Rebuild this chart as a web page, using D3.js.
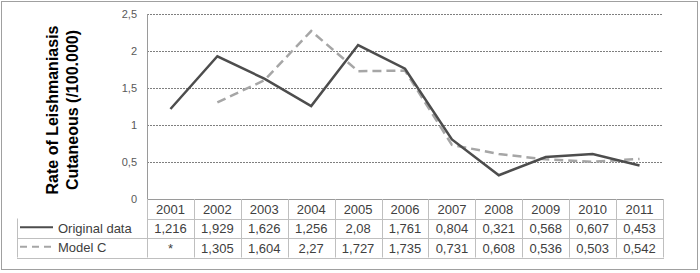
<!DOCTYPE html>
<html>
<head>
<meta charset="utf-8">
<script src="https://cdn.jsdelivr.net/npm/d3@7"></script>
<style>
  body { margin: 0; background: #fff; }
  svg { display: block; font-family: "Liberation Sans", Arial, sans-serif; }
</style>
</head>
<body>
<svg id="chart" width="700" height="273"></svg>
<script>
// Chart data
const years = ["2001", "2002", "2003", "2004", "2005", "2006", "2007", "2008", "2009", "2010", "2011"];
const original = [1.216, 1.929, 1.626, 1.256, 2.08, 1.761, 0.804, 0.321, 0.568, 0.607, 0.453];
const modelC = [null, 1.305, 1.604, 2.27, 1.727, 1.735, 0.731, 0.608, 0.536, 0.503, 0.542];
const originalLabels = ["1,216", "1,929", "1,626", "1,256", "2,08", "1,761", "0,804", "0,321", "0,568", "0,607", "0,453"];
const modelLabels = ["*", "1,305", "1,604", "2,27", "1,727", "1,735", "0,731", "0,608", "0,536", "0,503", "0,542"];
const yTicks = [0, 0.5, 1, 1.5, 2, 2.5];
const yTickLabels = ["0", "0,5", "1", "1,5", "2", "2,5"];

const svg = d3.select("#chart");

// outer frame
svg.append("rect")
    .attr("x", 1.5).attr("y", 1.5)
    .attr("width", 696).attr("height", 268)
    .attr("fill", "none")
    .attr("stroke", "#a0a0a0");

const plotLeft = 147, plotRight = 663, plotTop = 14, plotBottom = 199;
const rowH = 19.5;
const legendLeft = 17;

const x = d3.scaleBand().domain(years).range([plotLeft, plotRight]);
const y = d3.scaleLinear().domain([0, 2.5]).range([plotBottom, plotTop]);

// gridlines
svg.append("g")
    .selectAll("line")
    .data(yTicks.filter(d => d > 0))
    .join("line")
    .attr("x1", plotLeft).attr("x2", plotRight)
    .attr("y1", d => Math.round(y(d)) + 0.5)
    .attr("y2", d => Math.round(y(d)) + 0.5)
    .attr("stroke", "#7f7f7f")
    .attr("stroke-width", 1)
    .attr("stroke-dasharray", "2,1");

// y axis line + baseline
svg.append("line")
    .attr("x1", plotLeft + 0.5).attr("x2", plotLeft + 0.5)
    .attr("y1", plotTop).attr("y2", plotBottom + rowH)
    .attr("stroke", "#9a9a9a");
svg.append("line")
    .attr("x1", plotLeft).attr("x2", plotRight)
    .attr("y1", plotBottom + 0.5).attr("y2", plotBottom + 0.5)
    .attr("stroke", "#9a9a9a");

// y tick labels
svg.append("g")
    .selectAll("text")
    .data(yTicks)
    .join("text")
    .attr("x", 137)
    .attr("y", d => y(d) + 4)
    .attr("text-anchor", "end")
    .attr("font-size", "11px")
    .attr("fill", "#595959")
    .text((d, i) => yTickLabels[i]);

// y title
const title = svg.append("text")
    .attr("transform", "translate(0,110) rotate(-90)")
    .attr("text-anchor", "middle")
    .attr("font-size", "16px")
    .attr("font-weight", "bold")
    .attr("fill", "#000");
title.append("tspan").attr("x", 0).attr("y", 58).text("Rate of Leishmaniasis");
title.append("tspan").attr("x", 0).attr("y", 78).text("Cutaneous (/100.000)");

// lines
const cx = d => x(d) + x.bandwidth() / 2;
const line = d3.line()
    .defined(d => d.v !== null)
    .x(d => cx(d.year))
    .y(d => y(d.v));

svg.append("path")
    .datum(years.map((yr, i) => ({ year: yr, v: modelC[i] })))
    .attr("d", line)
    .attr("fill", "none")
    .attr("stroke", "#a6a6a6")
    .attr("stroke-width", 2.5)
    .attr("stroke-dasharray", "9,5");

svg.append("path")
    .datum(years.map((yr, i) => ({ year: yr, v: original[i] })))
    .attr("d", line)
    .attr("fill", "none")
    .attr("stroke", "#4d4d4d")
    .attr("stroke-width", 2.5);

// data table
const tableColor = "#bfbfbf";
const tbl = svg.append("g").attr("stroke", tableColor).attr("fill", "none");

// column verticals
years.forEach(yr => {
    const xx = Math.round(x(yr) + x.bandwidth()) + 0.5;
    tbl.append("line")
        .attr("x1", xx).attr("x2", xx)
        .attr("y1", plotBottom).attr("y2", plotBottom + rowH * 3);
});
// horizontal row lines
[1, 2, 3].forEach(r => {
    const yy = Math.round(plotBottom + rowH * r) + 0.5;
    tbl.append("line")
        .attr("x1", r === 1 ? plotLeft : legendLeft).attr("x2", plotRight + 1)
        .attr("y1", yy).attr("y2", yy);
});
tbl.append("line")
    .attr("x1", legendLeft + 0.5).attr("x2", legendLeft + 0.5)
    .attr("y1", plotBottom + rowH).attr("y2", plotBottom + rowH * 3);
tbl.append("line")
    .attr("x1", plotLeft + 0.5).attr("x2", plotLeft + 0.5)
    .attr("y1", plotBottom).attr("y2", plotBottom + rowH * 3);

const rows = [years, originalLabels, modelLabels];
rows.forEach((labels, r) => {
    svg.append("g")
        .selectAll("text")
        .data(labels)
        .join("text")
        .attr("x", (d, i) => cx(years[i]))
        .attr("y", plotBottom + rowH * r + 14.5)
        .attr("text-anchor", "middle")
        .attr("font-size", "13px")
        .attr("fill", "#404040")
        .text(d => d);
});

// legend cells
const legend = [
    { name: "Original data", color: "#4d4d4d", dash: null },
    { name: "Model C", color: "#a6a6a6", dash: "7,5" }
];
legend.forEach((l, i) => {
    const ly = plotBottom + rowH * (i + 1) + rowH / 2;
    svg.append("line")
        .attr("x1", 20).attr("x2", 53)
        .attr("y1", ly - 1).attr("y2", ly - 1)
        .attr("stroke", l.color)
        .attr("stroke-width", 2)
        .attr("stroke-dasharray", l.dash);
    svg.append("text")
        .attr("x", 58)
        .attr("y", ly + 4.5)
        .attr("font-size", "13px")
        .attr("fill", "#404040")
        .text(l.name);
});
</script>
</body>
</html>
